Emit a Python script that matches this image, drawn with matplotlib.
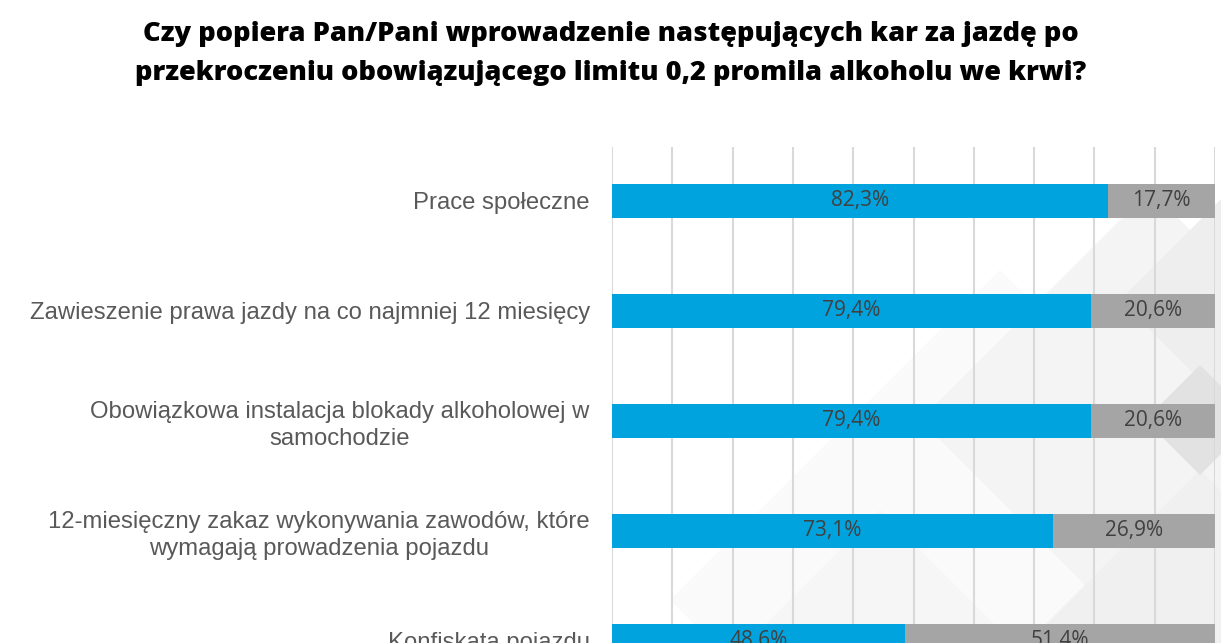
import numpy as np
import matplotlib.pyplot as plt
from matplotlib.patches import Polygon

categories = ['Prace społeczne',
              'Zawieszenie prawa jazdy na co najmniej 12 miesięcy',
              'Obowiązkowa instalacja blokady alkoholowej w\nsamochodzie',
              '12-miesięczny zakaz wykonywania zawodów, które\nwymagają prowadzenia pojazdu',
              'Konfiskata pojazdu']
yes = [82.3, 79.4, 79.4, 73.1, 48.6]
no = [17.7, 20.6, 20.6, 26.9, 51.4]

blue = '#00A3DD'
grey = '#A5A5A5'

fig = plt.figure(figsize=(12.21, 6.43), dpi=100)

# faint diamond decoration in the background (right side)
bg = fig.add_axes([0, 0, 1, 1], zorder=0)
bg.set_xlim(0, 1221)
bg.set_ylim(643, 0)
bg.axis('off')
for cx, cy, r, c in [(1000, 600, 330, '#FAFAFA'), (1150, 420, 230, '#F4F4F4'),
                     (1200, 640, 170, '#F0F0F0'), (880, 660, 150, '#F6F6F6'),
                     (1250, 300, 130, '#EEEEEE'), (1200, 420, 55, '#E2E2E2')]:
    bg.add_patch(Polygon([(cx, cy - r), (cx + r, cy), (cx, cy + r), (cx - r, cy)],
                         closed=True, facecolor=c, edgecolor='none'))

ax = fig.add_axes([612 / 1221, 0, (1215 - 612) / 1221, (643 - 147) / 643], zorder=1)
ax.patch.set_alpha(0)
y = np.arange(len(categories))
ax.barh(y, yes, height=0.31, color=blue, zorder=3)
ax.barh(y, no, left=yes, height=0.31, color=grey, zorder=3)

for i in range(len(categories)):
    ax.text(yes[i] / 2, y[i], f'{yes[i]:.1f}%'.replace('.', ','), ha='center', va='center',
            fontsize=15, color='#404040', family='Open Sans', zorder=4)
    ax.text(yes[i] + no[i] / 2, y[i], f'{no[i]:.1f}%'.replace('.', ','), ha='center', va='center',
            fontsize=15, color='#404040', family='Open Sans', zorder=4)

ax.set_xlim(0, 100)
ax.set_ylim(4.02, -0.49)
ax.set_xticks(np.arange(0, 101, 10))
ax.xaxis.grid(True, color='#D9D9D9', linewidth=1.5, zorder=0)
ax.set_xticklabels([])
ax.tick_params(axis='both', length=0)
ax.set_yticks(y)
ax.set_yticklabels(categories, fontsize=17.2, color='#595959', family='Liberation Sans',
                   multialignment='center', linespacing=1.25)
ax.tick_params(axis='y', pad=16)
for s in ax.spines.values():
    s.set_visible(False)

fig.text(0.5, 1 - 21 / 643, 'Czy popiera Pan/Pani wprowadzenie następujących kar za jazdę po\n'
         'przekroczeniu obowiązującego limitu 0,2 promila alkoholu we krwi?',
         ha='center', va='top', fontsize=19.6, fontweight='heavy', family='Open Sans',
         linespacing=1.65)

fig.savefig('out.png', dpi=100)
